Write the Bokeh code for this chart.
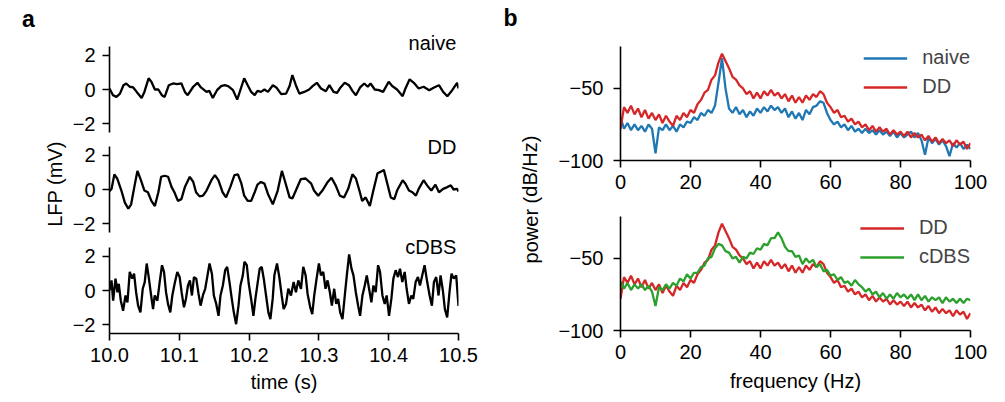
from bokeh.plotting import figure
from bokeh.models import (Range1d, FixedTicker, Label, Legend, LegendItem,
                          CustomJSTickFormatter, NumeralTickFormatter)
from bokeh.layouts import row, column
from bokeh.embed import file_html
from bokeh.resources import INLINE

# ---------------- data: panel a (LFP traces, mV) ----------------
t_naive = [10.000, 10.005, 10.010, 10.015, 10.020, 10.024, 10.029, 10.034, 10.039, 10.046,
           10.050, 10.056, 10.060, 10.065, 10.070, 10.075, 10.079, 10.085, 10.091, 10.097,
           10.103, 10.108, 10.112, 10.120, 10.126, 10.131, 10.139, 10.143, 10.148, 10.154,
           10.160, 10.165, 10.170, 10.177, 10.183, 10.189, 10.193, 10.198, 10.203, 10.208,
           10.212, 10.217, 10.222, 10.227, 10.234, 10.239, 10.246, 10.253, 10.258, 10.262,
           10.267, 10.272, 10.279, 10.286, 10.291, 10.297, 10.303, 10.310, 10.315, 10.321,
           10.326, 10.331, 10.337, 10.343, 10.348, 10.353, 10.359, 10.365, 10.370, 10.374,
           10.380, 10.386, 10.392, 10.400, 10.405, 10.412, 10.420, 10.424, 10.430, 10.436,
           10.443, 10.450, 10.458, 10.465, 10.472, 10.478, 10.484, 10.491, 10.498, 10.500]
v_naive = [0.06, -0.33, -0.43, -0.24, 0.25, 0.35, 0.16, 0.12, -0.14, -0.49,
           -0.14, 0.65, 0.45, 0.0, 0.0, -0.33, -0.43, 0.25, 0.35, 0.31,
           0.35, -0.14, -0.33, 0.16, 0.39, 0.12, -0.14, -0.08, -0.49, -0.04,
           0.2, 0.25, 0.2, -0.04, -0.59, 0.16, 0.65, 0.25, -0.14, -0.33,
           -0.08, -0.14, 0.0, -0.14, 0.25, 0.12, -0.27, -0.24, 0.2, 0.84,
           0.25, -0.24, -0.14, 0.0, 0.2, 0.39, 0.06, -0.1, 0.25, -0.14,
           -0.2, 0.12, 0.39, 0.25, -0.08, -0.33, 0.12, 0.35, 0.16, 0.35,
           0.0, -0.04, -0.14, 0.45, 0.2, 0.0, -0.39, 0.06, 0.59, 0.39,
           0.06, 0.16, -0.04, 0.12, 0.25, -0.14, -0.39, -0.04, 0.39, 0.06]

t_dd = [10.000, 10.003, 10.007, 10.011, 10.017, 10.022, 10.027, 10.031, 10.036, 10.040, 10.045,
        10.050, 10.055, 10.060, 10.065, 10.070, 10.074, 10.079, 10.084, 10.089, 10.093,
        10.098, 10.103, 10.108, 10.115, 10.120, 10.124, 10.129, 10.134, 10.139, 10.146,
        10.151, 10.156, 10.162, 10.167, 10.173, 10.179, 10.184, 10.189, 10.193, 10.198,
        10.203, 10.208, 10.212, 10.217, 10.222, 10.227, 10.234, 10.241, 10.247, 10.251,
        10.258, 10.262, 10.267, 10.274, 10.281, 10.289, 10.293, 10.299, 10.305, 10.312,
        10.318, 10.324, 10.330, 10.336, 10.342, 10.348, 10.353, 10.358, 10.362, 10.367,
        10.373, 10.378, 10.384, 10.389, 10.393, 10.398, 10.403, 10.408, 10.412, 10.420,
        10.424, 10.429, 10.434, 10.439, 10.443, 10.450, 10.455, 10.461, 10.467, 10.472,
        10.478, 10.484, 10.489, 10.493, 10.498, 10.500]
v_dd = [-0.1, 0.04, 0.88, 0.64, -0.06, -0.76, -1.12, -0.86, 0.24, 1.08, 0.54,
        -0.06, -0.16, -0.66, -0.96, -0.16, 0.74, 0.8, 0.74, 0.14, -0.16,
        -0.66, -0.56, 0.14, 0.74, 0.44, -0.16, -0.4, -0.36, -0.06, 0.54,
        0.84, 0.54, -0.16, -0.46, 0.14, 0.84, 0.88, 0.34, -0.36, -0.66,
        -0.66, -0.16, 0.28, 0.44, 0.34, -0.26, -0.86, -0.06, 1.08, 0.54,
        -0.46, -0.52, -0.06, 0.6, 0.64, 0.34, -0.06, -0.36, -0.06, 0.4,
        0.68, 0.24, -0.36, -0.46, 0.04, 0.88, 0.64, -0.06, -0.66, -0.46,
        -0.96, -0.06, 0.94, 1.04, 1.14, 0.34, -0.46, -0.56, -0.06, 0.54,
        0.34, -0.06, -0.16, -0.36, 0.04, 0.54, 0.24, -0.06, 0.28, -0.16,
        0.04, 0.14, 0.24, 0.0, 0.04, -0.12]

t_cdbs = [10.0000, 10.0029, 10.0052, 10.0086, 10.0114, 10.0133, 10.0162, 10.0195, 10.0229, 10.0257,
          10.0290, 10.0324, 10.0352, 10.0381, 10.0410, 10.0443, 10.0476, 10.0505, 10.0533, 10.0562,
          10.0590, 10.0624, 10.0648, 10.0686, 10.0719, 10.0752, 10.0781, 10.0810, 10.0838, 10.0871,
          10.0900, 10.0933, 10.0971, 10.1005, 10.1033, 10.1067, 10.1095, 10.1124, 10.1152, 10.1181,
          10.1210, 10.1243, 10.1276, 10.1305, 10.1338, 10.1371, 10.1400, 10.1433, 10.1467, 10.1495,
          10.1529, 10.1562, 10.1590, 10.1624, 10.1657, 10.1686, 10.1719, 10.1752, 10.1781, 10.1814,
          10.1848, 10.1876, 10.1910, 10.1933, 10.1967, 10.1995, 10.2029, 10.2062, 10.2090, 10.2124,
          10.2152, 10.2181, 10.2210, 10.2243, 10.2276, 10.2305, 10.2338, 10.2362, 10.2400, 10.2433,
          10.2467, 10.2495, 10.2529, 10.2562, 10.2600, 10.2638, 10.2671, 10.2705, 10.2743, 10.2776,
          10.2810, 10.2838, 10.2876, 10.2905, 10.2933, 10.2967, 10.3000, 10.3029, 10.3062, 10.3095,
          10.3124, 10.3157, 10.3186, 10.3219, 10.3248, 10.3276, 10.3305, 10.3338, 10.3371, 10.3400,
          10.3433, 10.3467, 10.3495, 10.3529, 10.3562, 10.3590, 10.3624, 10.3657, 10.3686, 10.3719,
          10.3752, 10.3781, 10.3814, 10.3848, 10.3876, 10.3910, 10.3943, 10.3971, 10.4005, 10.4038,
          10.4067, 10.4100, 10.4133, 10.4162, 10.4195, 10.4229, 10.4257, 10.4290, 10.4324, 10.4352,
          10.4386, 10.4419, 10.4448, 10.4481, 10.4514, 10.4552, 10.4586, 10.4619, 10.4648, 10.4681,
          10.4714, 10.4743, 10.4776, 10.4805, 10.4838, 10.4871, 10.4900, 10.4933, 10.4967, 10.5000]
v_cdbs = [0.0, 0.59, -0.59, 0.69, -0.1, 0.39, -0.59, -1.18, -0.29, -0.69,
          1.08, 0.69, 0.98, -0.1, -0.88, -1.27, 0.1, 0.49, 1.57, 0.78,
          -0.1, -1.08, -0.29, -0.59, 0.49, 1.47, 1.08, -0.1, -0.78, -1.27,
          -0.29, 0.39, 1.08, 0.78, -0.1, -0.98, -0.49, 0.29, 0.59, -0.29,
          0.78, 0.69, -0.2, -0.88, -0.29, 0.1, 0.78, 1.57, 0.98, -0.29,
          -0.78, -1.47, -0.29, 0.29, 1.18, 1.37, 0.49, -0.49, -1.27, -1.96,
          -0.88, 0.29, 0.88, 1.67, 1.47, 0.39, -0.49, -1.47, -0.49, 0.49,
          1.27, 1.37, 0.69, -0.29, -1.27, -1.67, -0.49, 0.88, 1.57, 0.78,
          -0.29, -1.08, -0.78, 0.1, -0.29, 0.49, -0.1, 0.59, 0.1, 1.37,
          0.88, -0.2, -0.98, -1.37, -0.29, 0.69, 1.57, 0.88, 1.08, 0.1,
          0.59, -0.1, -0.88, 0.1, -0.78, -0.49, -1.27, -1.67, -0.29, 0.88,
          2.1, 1.27, 0.88, -0.1, -0.88, -1.47, -0.29, 0.29, 0.88, 0.1,
          -0.69, 0.29, -0.1, 1.47, 1.08, -0.29, -0.78, -0.29, -1.47, -0.49,
          0.69, 1.18, 0.78, 1.27, 0.49, 1.08, 0.1, -0.78, -0.29, -0.49,
          0.49, 0.78, 0.29, 0.88, 1.47, 0.49, -0.29, -0.88, 0.49, 0.78,
          -0.29, 0.88, 0.0, -1.08, -1.57, -0.1, 0.98, 0.69, 0.88, -0.9]

# ---------------- data: panel b (power spectra, dB/Hz) ----------------
freq = list(range(101))
p_naive = [-70, -78, -74, -79, -75, -79, -76, -80, -75, -78,
           -95, -77, -79, -75, -79, -76, -80, -75, -77, -73,
           -74, -70, -72, -67, -69, -65, -67, -62, -46, -29,
           -50, -64, -67, -63, -68, -65, -70, -66, -69, -64,
           -67, -63, -66, -62, -65, -63, -67, -64, -70, -66,
           -71, -67, -72, -65, -68, -63, -62, -59, -60, -67,
           -72, -75, -73, -77, -75, -79, -76, -80, -78, -81,
           -78, -81, -79, -82, -79, -82, -80, -83, -80, -84,
           -81, -84, -82, -80, -84, -81, -86, -96, -84, -88,
           -85, -89, -86, -90, -97, -88, -91, -88, -92, -89, -92]
p_dd = [-78, -63, -67, -62, -68, -64, -70, -65, -71, -67,
        -72, -68, -74, -69, -73, -76, -69, -72, -67, -70,
        -65, -67, -61, -58, -53, -51, -44, -41, -32, -26,
        -31, -36, -42, -44, -48, -50, -54, -52, -57, -53,
        -57, -52, -55, -51, -55, -53, -57, -54, -59, -55,
        -60, -56, -60, -55, -58, -54, -56, -52, -54, -60,
        -63, -67, -65, -70, -69, -73, -71, -75, -73, -77,
        -75, -79, -76, -80, -77, -80, -78, -82, -79, -82,
        -80, -83, -80, -84, -81, -84, -82, -86, -83, -87,
        -84, -88, -85, -88, -86, -90, -86, -89, -87, -92, -88]
p_cdbs = [-66, -71, -67, -72, -68, -71, -68, -72, -69, -73,
          -83, -70, -72, -68, -71, -67, -69, -64, -66, -61,
          -64, -60, -60, -56, -55, -50, -49, -43, -40, -41,
          -45, -46, -50, -49, -53, -49, -50, -46, -47, -43,
          -44, -40, -41, -36, -36, -32, -36, -42, -45, -45,
          -49, -48, -54, -50, -53, -51, -56, -54, -59, -58,
          -62, -61, -65, -63, -67, -66, -69, -65, -68, -70,
          -73, -71, -75, -73, -77, -74, -78, -75, -78, -74,
          -77, -75, -78, -75, -79, -75, -79, -76, -80, -77,
          -79, -77, -81, -77, -80, -78, -81, -78, -81, -78, -79]

time_ticks = [10.0, 10.1, 10.2, 10.3, 10.4, 10.5]
lfp_ticks = [-2, 0, 2]
freq_ticks = [0, 20, 40, 60, 80, 100]
pow_ticks = [-100, -50]

FONT = "Liberation Sans"
FS = "20px"
BLUE, RED, GREEN = "#1f77b4", "#d62728", "#2ca02c"

minus_fmt = CustomJSTickFormatter(code="return tick < 0 ? '\u2212' + Math.abs(tick) : String(tick);")


def style(p):
    p.outline_line_color = None
    p.xgrid.visible = False
    p.ygrid.visible = False
    for ax in p.axis:
        ax.axis_line_width = 1.6
        ax.major_tick_line_width = 1.6
        ax.major_tick_out = 7
        ax.major_tick_in = 0
        ax.minor_tick_line_color = None
        ax.major_label_text_font = FONT
        ax.major_label_text_font_size = FS
        ax.major_label_text_color = "black"
        ax.axis_label_text_font = FONT
        ax.axis_label_text_font_size = FS
        ax.axis_label_text_font_style = "normal"
        ax.axis_label_text_color = "black"
        ax.major_label_standoff = 7


PX_PER_MV = 86 / 5.0


def lfp_fig(height, top, frame_h, bottom, xaxis):
    ytop = -2.5 + frame_h / PX_PER_MV
    p = figure(width=460, height=height, x_range=Range1d(10.0, 10.5),
               y_range=Range1d(-2.5, ytop), output_backend="svg", toolbar_location=None,
               x_axis_location="below" if xaxis else None,
               min_border_left=68, min_border_right=42,
               min_border_top=top, min_border_bottom=bottom)
    p.yaxis.ticker = FixedTicker(ticks=lfp_ticks)
    p.yaxis.formatter = minus_fmt
    p.yaxis.bounds = (-2.5, 2.5)
    if xaxis:
        p.xaxis.ticker = FixedTicker(ticks=time_ticks)
        p.xaxis.formatter = NumeralTickFormatter(format="0.0")
        p.xaxis.axis_label = "time (s)"
    style(p)
    if xaxis:
        p.xaxis.axis_label_standoff = 6
    return p


a1 = lfp_fig(135, 30, 102, 3, False)
a2 = lfp_fig(99, 0, 97, 2, False)
a3 = lfp_fig(168, 0, 99, 69, True)
a2.yaxis.axis_label = "LFP (mV)"
a2.yaxis.axis_label_standoff = 4

for p, t, v, name, ly in [(a1, t_naive, v_naive, "naive", 2.70), (a2, t_dd, v_dd, "DD", 2.48),
                          (a3, t_cdbs, v_cdbs, "cDBS", 2.55)]:
    p.line(t, v, line_color="black", line_width=2.3)
    p.add_layout(Label(x=10.497, y=ly, text=name, text_align="right",
                       text_baseline="middle", text_font=FONT, text_font_size=FS,
                       text_color="black"))


def strip(width, labels):
    s = figure(width=width, height=402, x_range=Range1d(0, 1), y_range=Range1d(0, 1),
               output_backend="svg", toolbar_location=None, x_axis_location=None,
               y_axis_location=None, min_border=0)
    s.outline_line_color = None
    s.xgrid.visible = False
    s.ygrid.visible = False
    for lb in labels:
        s.add_layout(lb)
    return s


strip_a = strip(40, [Label(x=28 / 40, y=(402 - 18) / 402, text="a", text_align="center",
                           text_baseline="middle", text_font=FONT, text_font_size="23px",
                           text_font_style="bold", text_color="black")])


def psd_fig(height, top, bottom):
    p = figure(width=455, height=height, x_range=Range1d(0, 100),
               y_range=Range1d(-100, -21), output_backend="svg", toolbar_location=None,
               min_border_left=70, min_border_right=35,
               min_border_top=top, min_border_bottom=bottom)
    p.xaxis.ticker = FixedTicker(ticks=freq_ticks)
    p.yaxis.ticker = FixedTicker(ticks=pow_ticks)
    p.yaxis.formatter = minus_fmt
    style(p)
    p.yaxis.major_label_standoff = 10
    return p


b1 = psd_fig(195, 46, 35)
b2 = psd_fig(207, 21, 72)
b2.xaxis.axis_label = "frequency (Hz)"
b2.xaxis.axis_label_standoff = 8

r_nv = b1.line(freq, p_naive, line_color=BLUE, line_width=2.3)
r_dd1 = b1.line(freq, p_dd, line_color=RED, line_width=2.3)
r_dd2 = b2.line(freq, p_dd, line_color=RED, line_width=2.3)
r_cd = b2.line(freq, p_cdbs, line_color=GREEN, line_width=2.3)

for p, items in [(b1, [("naive", r_nv), ("DD", r_dd1)]),
                 (b2, [("DD", r_dd2), ("cDBS", r_cd)])]:
    lg = Legend(items=[LegendItem(label=l, renderers=[r]) for l, r in items],
                location="top_right")
    lg.border_line_color = None
    lg.background_fill_alpha = 0
    lg.label_text_font = FONT
    lg.label_text_font_size = FS
    lg.glyph_width = 44
    lg.glyph_height = 20
    lg.label_height = 20
    lg.label_standoff = 15
    lg.spacing = 6
    lg.padding = 2
    lg.margin = 0
    p.add_layout(lg)

strip_b = strip(50, [
    Label(x=0.2, y=(402 - 17) / 402, text="b", text_align="center",
          text_baseline="middle", text_font=FONT, text_font_size="23px",
          text_font_style="bold", text_color="black"),
    Label(x=0.6, y=(402 - 199) / 402, text="power (dB/Hz)", angle=1.5708,
          text_align="center", text_baseline="middle", text_font=FONT,
          text_font_size=FS, text_color="black")])

layout = row(strip_a, column(a1, a2, a3, spacing=0), strip_b, column(b1, b2, spacing=0),
             spacing=0)

open("out.html", "w").write(file_html(layout, INLINE))
